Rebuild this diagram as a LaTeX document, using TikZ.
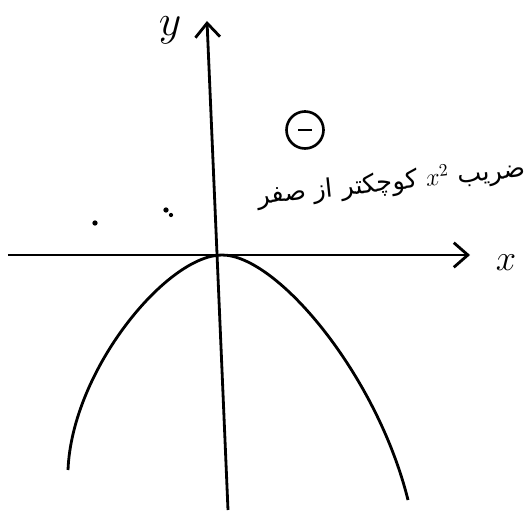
\documentclass[tikz,border=0pt]{standalone}
\usepackage{fontspec}
\newfontfamily\arabicfont[Script=Arabic]{DejaVu Sans}
\TeXXeTstate=1
\usetikzlibrary{arrows.meta}
\begin{document}
\begin{tikzpicture}[
	axis/.style={line width=1.6pt,-{Straight Barb[length=8pt,width=14pt,line width=1.6pt]}},
	curve/.style={line width=1.6pt},
	every node/.style={inner sep=1pt}
	]
	\useasboundingbox (-4.34,-5.18) rectangle (6.26,5.1);
	% axes
	\coordinate (xl) at (-4.18,0);
	\coordinate (xr) at (5.06,0);
	\coordinate (yb) at (0.22,-5.1);
	\coordinate (yt) at (-0.2,4.68);
	\draw[axis] (xl) -- (xr);
	\draw[axis] (yb) -- (yt);
	\node (xlab) at (5.78,-0.16) {\fontsize{22}{22}\selectfont $x$};
	\node (ylab) at (-0.94,4.5) {\fontsize{24}{24}\selectfont $y$};
	% parabola
	\coordinate (top) at (0.1,0);
	\coordinate (lend) at (-2.98,-4.3);
	\coordinate (rend) at (3.82,-4.9);
	\draw[curve] (lend) .. controls (-2.9,-2.3) and (-1.0,0) .. (top)
		.. controls (1.2,0) and (3.2,-2.4) .. (rend);
	% sign
	\node[draw,circle,line width=1.5pt,minimum size=0.74cm] (sign) at (1.76,2.5) {};
	\draw[line width=1.6pt] ([xshift=-0.14cm]sign.center) -- ([xshift=0.14cm]sign.center);
	\node[rotate=6,anchor=east] (note) at (6.2,1.72) {\arabicfont\fontsize{14.5}{18}\selectfont\beginR ضریب \beginL$x^2$\endL{} کوچکتر از صفر\endR};
	% stray dots
	\fill (-2.44,0.64) circle (1.5pt);
	\fill (-1.02,0.9) circle (1.5pt);
	\fill (-0.92,0.8) circle (1.2pt);
\end{tikzpicture}
\end{document}
